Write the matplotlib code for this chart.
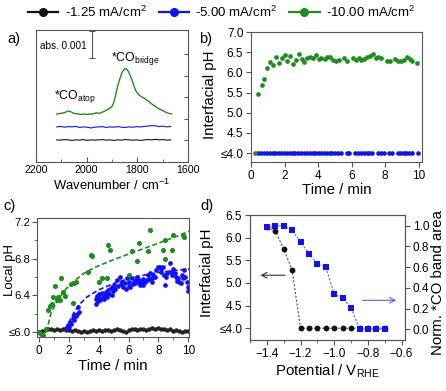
import numpy as np
import matplotlib
matplotlib.use("Agg")
import matplotlib.pyplot as plt
from matplotlib.lines import Line2D
from matplotlib.ticker import MultipleLocator, FixedLocator

plt.rcParams['font.family'] = ['Liberation Sans', 'DejaVu Sans']
plt.rcParams['mathtext.default'] = 'regular'

# ---------------- data ----------------
legend_labels = ['-1.25 mA/cm$^2$', '-5.00 mA/cm$^2$', '-10.00 mA/cm$^2$']
c_black = '#111111'
c_blue = '#1010ff'
c_green = '#1e8c1e'

# panel a: spectra (absorbance in units of 0.001)
wn_green_a = [2118, 2105, 2090, 2080, 2072, 2062, 2050, 2040, 2030, 2020, 2010, 2000,
              1990, 1980, 1970, 1960, 1950, 1940, 1930, 1920, 1910, 1900, 1893, 1885,
              1878, 1870, 1862, 1855, 1848, 1842, 1835, 1828, 1820, 1812, 1805, 1795,
              1785, 1775, 1765, 1755, 1745, 1735, 1725, 1715, 1705, 1695, 1685, 1675, 1665]
green_a = [1.78, 1.80, 1.82, 1.86, 1.89, 1.86, 1.80, 1.79, 1.77, 1.76, 1.78, 1.76,
           1.78, 1.77, 1.80, 1.82, 1.80, 1.84, 1.88, 1.93, 1.98, 2.06, 2.20, 2.50,
           2.80, 3.05, 3.28, 3.40, 3.46, 3.44, 3.35, 3.20, 3.00, 2.78, 2.62, 2.50,
           2.42, 2.38, 2.31, 2.25, 2.16, 2.10, 2.03, 1.97, 1.93, 1.88, 1.83, 1.80, 1.78]
wn_a = [2118, 2103, 2088, 2073, 2058, 2043, 2028, 2013, 1998, 1983, 1968, 1953, 1938,
        1923, 1908, 1893, 1878, 1863, 1848, 1833, 1818, 1803, 1788, 1773, 1758, 1743,
        1728, 1713, 1698, 1683, 1668]
blue_a = [1.30, 1.32, 1.29, 1.31, 1.30, 1.32, 1.28, 1.30, 1.29, 1.26, 1.29, 1.30, 1.31,
          1.28, 1.30, 1.29, 1.31, 1.29, 1.28, 1.30, 1.29, 1.31, 1.30, 1.32, 1.33, 1.35,
          1.34, 1.31, 1.33, 1.30, 1.32]
black_a = [0.82, 0.81, 0.83, 0.82, 0.80, 0.82, 0.81, 0.83, 0.80, 0.82, 0.81, 0.82, 0.83,
           0.81, 0.82, 0.80, 0.82, 0.81, 0.83, 0.82, 0.81, 0.82, 0.80, 0.82, 0.83, 0.82,
           0.84, 0.82, 0.83, 0.81, 0.82]

# panel b: interfacial pH vs time
t_green_b = [0.24, 0.44, 0.63, 0.79, 0.97, 1.13, 1.31, 1.49, 1.65, 1.83, 2.00, 2.16, 2.34,
             2.50, 2.68, 2.86, 3.02, 3.19, 3.35, 3.53, 3.69, 3.87, 4.05, 4.20, 4.39, 4.56,
             4.72, 4.90, 5.06, 5.24, 5.56, 5.73, 6.09, 6.25, 6.43, 6.59, 6.77, 6.94, 7.10,
             7.26, 7.44, 7.60, 7.78, 8.12, 8.29, 8.61, 8.79, 8.95, 9.13, 9.29, 9.46, 9.62, 9.90]
green_b = [4.00, 5.47, 5.69, 5.83, 6.11, 6.25, 6.19, 6.37, 6.23, 6.36, 6.42, 6.28, 6.40,
           6.21, 6.31, 6.46, 6.32, 6.25, 6.36, 6.37, 6.36, 6.42, 6.33, 6.35, 6.33, 6.37,
           6.39, 6.31, 6.27, 6.31, 6.35, 6.29, 6.35, 6.31, 6.35, 6.31, 6.33, 6.37, 6.40,
           6.46, 6.35, 6.37, 6.35, 6.29, 6.29, 6.33, 6.28, 6.27, 6.31, 6.37, 6.33, 6.27, 6.24]
t_low_b = [0.44, 0.61, 0.78, 0.95, 1.12, 1.29, 1.46, 1.63, 1.80, 1.97, 2.14, 2.31, 2.48,
           2.65, 2.82, 2.99, 3.16, 3.33, 3.50, 3.67, 3.84, 4.01, 4.18, 4.35, 4.52, 4.69,
           4.86, 5.03, 5.20, 5.37, 5.70, 5.87, 6.21, 6.38, 6.55, 6.72, 6.89, 7.06, 7.23,
           7.57, 7.74, 7.91, 8.25, 8.42, 8.76, 8.93, 9.10, 9.27, 9.44, 9.61, 9.95]
blue_b = [4.0, 4.0, 4.0, 4.0, 4.0, 4.0, 4.0, 4.0, 4.0, 4.0, 4.0, 4.0, 4.0,
          4.0, 4.0, 4.0, 4.0, 4.0, 4.0, 4.0, 4.0, 4.0, 4.0, 4.0, 4.0, 4.0,
          4.0, 4.0, 4.0, 4.0, 4.0, 4.0, 4.0, 4.0, 4.0, 4.0, 4.0, 4.0, 4.0,
          4.0, 4.0, 4.0, 4.0, 4.0, 4.0, 4.0, 4.0, 4.0, 4.0, 4.0, 4.0]
black_b = list(blue_b)

# panel c: local pH vs time
t_green_c = [0.00, 0.15, 0.30, 0.45, 0.59, 0.74, 0.90, 0.96, 1.07, 1.18, 1.29, 1.40, 1.47,
             1.62, 1.73, 2.17, 2.28, 2.35, 2.50, 3.31, 3.49, 3.55, 4.03, 4.25, 4.54, 4.65,
             4.74, 6.01, 6.23, 6.60, 6.73, 7.32, 7.43, 8.30, 8.41, 8.47, 8.92, 8.97, 9.62, 9.69]
green_c = [6.00, 5.98, 5.97, 6.03, 6.24, 6.28, 6.31, 6.38, 6.50, 6.35, 6.38, 6.35, 6.59,
           6.44, 6.39, 6.52, 6.32, 6.54, 6.55, 6.65, 6.84, 6.83, 6.55, 6.59, 6.59, 6.95,
           6.89, 6.62, 6.88, 6.77, 6.97, 6.88, 7.11, 6.90, 7.00, 6.80, 6.89, 7.06, 7.06, 7.04]
t_blue_c = [1.82, 1.93, 2.00, 2.11, 2.18, 2.26, 2.33, 2.37, 2.45, 2.52, 2.59, 2.65,
            3.80, 3.85, 3.90, 3.95, 4.00, 4.05, 4.10, 4.20, 4.30, 4.35, 4.43, 4.50, 4.55,
            4.65, 4.72, 4.80, 4.87, 4.91, 4.95, 5.02, 5.10, 5.24, 5.30, 5.46, 5.50, 5.57,
            5.65, 5.79, 5.85, 5.90, 6.00, 6.05, 6.12, 6.23, 6.30, 6.34, 6.45, 6.50, 6.56,
            6.67, 6.72, 6.78, 6.89, 6.95, 7.00, 7.10, 7.22, 7.33, 7.40, 7.43, 7.54, 7.60,
            7.65, 7.75, 7.87, 7.98, 8.09, 8.15, 8.20, 8.31, 8.36, 8.42, 8.53, 8.60, 8.75,
            8.86, 8.92, 8.97, 9.08, 9.19, 9.25, 9.30, 9.41, 9.52, 9.58, 9.63, 9.74, 9.80,
            9.90, 9.96, 10.00]
blue_c = [6.04, 6.08, 6.05, 6.11, 6.09, 6.15, 6.13, 6.19, 6.17, 6.20, 6.27, 6.22,
          6.31, 6.36, 6.39, 6.34, 6.42, 6.37, 6.35, 6.43, 6.38, 6.36, 6.40, 6.44, 6.38,
          6.46, 6.42, 6.48, 6.49, 6.40, 6.45, 6.51, 6.47, 6.57, 6.50, 6.60, 6.52, 6.55,
          6.49, 6.53, 6.47, 6.59, 6.55, 6.50, 6.49, 6.59, 6.52, 6.55, 6.53, 6.57, 6.60,
          6.57, 6.53, 6.51, 6.55, 6.58, 6.51, 6.55, 6.57, 6.62, 6.58, 6.64, 6.59, 6.55,
          6.62, 6.60, 6.68, 6.71, 6.71, 6.65, 6.69, 6.71, 6.62, 6.51, 6.60, 6.64, 6.75,
          6.66, 6.62, 6.69, 6.64, 6.60, 6.56, 6.59, 6.55, 6.53, 6.62, 6.59, 6.68, 6.60,
          6.55, 6.49, 6.45]
t_black_c = [0.0, 0.2, 0.4, 0.6, 0.8, 1.0, 1.2, 1.4, 1.6, 1.8, 2.0, 2.2, 2.4, 2.6, 2.8,
             3.0, 3.2, 3.4, 3.6, 3.8, 4.0, 4.2, 4.4, 4.6, 4.8, 5.0, 5.2, 5.4, 5.6, 5.8,
             6.0, 6.2, 6.4, 6.6, 6.8, 7.0, 7.2, 7.4, 7.6, 7.8, 8.0, 8.2, 8.4, 8.6, 8.8,
             9.0, 9.2, 9.4, 9.6, 9.8, 10.0]
black_c = [6.00, 6.01, 6.02, 6.03, 6.03, 6.02, 6.03, 6.02, 6.03, 6.02, 6.02, 6.01, 6.02,
           6.01, 6.00, 6.01, 6.00, 6.01, 6.02, 6.01, 6.02, 6.01, 6.02, 6.02, 6.01, 6.02,
           6.03, 6.02, 6.01, 6.00, 6.02, 6.03, 6.03, 6.02, 6.03, 6.03, 6.02, 6.03, 6.04,
           6.03, 6.04, 6.03, 6.03, 6.02, 6.03, 6.01, 6.02, 6.01, 6.00, 6.01, 6.01]
t_fit_green = [0.5, 0.8, 1.2, 1.7, 2.3, 3.0, 3.8, 5.0, 6.0, 7.0, 8.0, 9.0, 10.2]
fit_green = [6.00, 6.20, 6.33, 6.45, 6.55, 6.64, 6.71, 6.79, 6.85, 6.91, 6.97, 7.03, 7.11]
t_fit_blue = [1.8, 2.0, 2.3, 2.7, 3.2, 4.0, 5.0, 6.0, 7.0, 8.0, 9.0, 10.2]
fit_blue = [6.02, 6.10, 6.20, 6.30, 6.38, 6.46, 6.53, 6.58, 6.62, 6.65, 6.67, 6.69]

# panel d: pH and CO band area vs potential
pot_d = [-1.40, -1.35, -1.30, -1.25, -1.20, -1.15, -1.10, -1.05, -1.00, -0.95,
         -0.90, -0.85, -0.80, -0.75, -0.70]
ph_d = [6.23, 6.15, 5.75, 5.28, 4.00, 4.00, 4.00, 4.00, 4.00, 4.00,
        4.00, 4.00, 4.00, 4.00, 4.00]
co_d = [0.99, 1.00, 1.00, 0.96, 0.84, 0.73, 0.63, 0.60, 0.34, 0.30,
        0.21, 0.00, 0.00, 0.00, 0.00]

# ---------------- figure ----------------
W, H = 446, 391
fig = plt.figure(figsize=(W / 100, H / 100), dpi=100)

def rect(l, r, t, b):
    return [l / W, 1 - b / H, (r - l) / W, (b - t) / H]

spine_c = '#555555'
tick_fs = 8.5
lab_fs = 10.8

def style(ax, fs=tick_fs):
    for s in ax.spines.values():
        s.set_color(spine_c)
        s.set_linewidth(0.8)
    ax.tick_params(which='both', direction='out', color=spine_c, labelsize=fs, pad=2)
    ax.tick_params(which='major', length=3.5, width=0.8)
    ax.tick_params(which='minor', length=2, width=0.6)

# ---- panel a ----
axa = fig.add_axes(rect(36, 188, 30, 162))
style(axa, 7.7)
axa.plot(wn_green_a, green_a, color=c_green, lw=1.0)
axa.plot(wn_a, blue_a, color=c_blue, lw=0.8)
axa.plot(wn_a, black_a, color=c_black, lw=0.8)
axa.set_xlim(2200, 1600)
axa.set_ylim(0, 4.89)
axa.set_xticks([2200, 2000, 1800, 1600])
axa.xaxis.set_minor_locator(FixedLocator([2100, 1900, 1700]))
axa.tick_params(axis='x', which='both', direction='in')
axa.yaxis.tick_right()
axa.set_yticks([0.8, 1.6, 2.4, 3.2, 4.0])
axa.tick_params(axis='y', which='both', direction='in', labelright=False, length=3)
axa.set_xlabel('Wavenumber / cm$^{-1}$', fontsize=9.4, labelpad=2)
axa.errorbar([1979], [4.35], yerr=[[0.5], [0.5]], color='#555555', capsize=2.5,
             lw=0.8, capthick=0.8)
axa.text(1999, 4.3, 'abs. 0.001', ha='right', va='center', fontsize=7.2)
axa.text(1902, 3.85, '*CO$_{bridge}$', ha='left', va='center', fontsize=8.8)
axa.text(2127, 2.44, '*CO$_{atop}$', ha='left', va='center', fontsize=8.8)

# ---- panel b ----
axb = fig.add_axes(rect(251, 422, 32, 162))
style(axb)
axb.plot(t_low_b, black_b, 'o', color=c_black, ms=3.0, mew=0)
axb.plot(t_low_b, blue_b, 'o', color=c_blue, ms=3.0, mew=0)
axb.plot(t_green_b, green_b, 'o', color=c_green, ms=3.4, mew=0)
axb.set_xlim(0, 10.2)
axb.set_ylim(3.78, 7.0)
axb.set_xticks([0, 2, 4, 6, 8, 10])
axb.set_yticks([4.0, 4.5, 5.0, 5.5, 6.0, 6.5, 7.0])
axb.set_yticklabels(['≤4.0', '4.5', '5.0', '5.5', '6.0', '6.5', '7.0'])
axb.set_xlabel('Time / min', fontsize=lab_fs, labelpad=1)
axb.set_ylabel('Interfacial pH', fontsize=lab_fs)
axb.yaxis.set_label_coords(-0.199, 0.515)

# ---- panel c ----
axc = fig.add_axes(rect(37, 189, 218, 337))
style(axc, 8.2)
axc.plot(t_black_c, black_c, 'o', color='#222222', ms=3.2, mew=0)
axc.plot(t_blue_c, blue_c, 'o', color=c_blue, ms=3.4, mew=0)
axc.plot(t_green_c, green_c, 'o', color=c_green, ms=3.7, mew=0)
axc.plot(t_fit_green, fit_green, '--', color=c_green, lw=1.2, dashes=(3, 1.6))
axc.plot(t_fit_blue, fit_blue, '--', color=c_blue, lw=1.2, dashes=(3, 1.6))
axc.set_xlim(-0.13, 10.05)
axc.set_ylim(5.945, 7.245)
axc.set_xticks([0, 2, 4, 6, 8, 10])
axc.xaxis.set_minor_locator(MultipleLocator(1))
axc.set_yticks([6.0, 6.4, 6.8, 7.2])
axc.set_yticklabels(['≤6.0', '6.4', '6.8', '7.2'])
axc.yaxis.set_minor_locator(MultipleLocator(0.2))
axc.tick_params(axis='x', labelsize=8.5)
axc.tick_params(axis='y', pad=1.2)
axc.set_xlabel('Time / min', fontsize=lab_fs, labelpad=2)
axc.set_ylabel('Local pH', fontsize=9.5)
axc.yaxis.set_label_coords(-0.14, 0.56)

# ---- panel d ----
axd = fig.add_axes(rect(250, 405, 215, 340))
style(axd)
axd2 = axd.twinx()
style(axd2)
axd.plot(pot_d, ph_d, '--', color='#555555', lw=0.8, dashes=(2, 1.5), zorder=2)
axd.plot(pot_d, ph_d, 'o', color=c_black, ms=4.2, mew=0, zorder=3)
axd2.plot(pot_d, co_d, '--', color='#4a64ff', lw=0.8, dashes=(2, 1.5))
axd2.plot(pot_d, co_d, 's', color=c_blue, ms=3.9, mew=0)
axd.set_xlim(-1.5, -0.58)
axd.set_ylim(3.74, 6.5)
axd2.set_ylim(-0.103, 1.103)
axd.set_xticks([-1.4, -1.2, -1.0, -0.8, -0.6])
axd.xaxis.set_minor_locator(MultipleLocator(0.1))
axd.set_yticks([4.0, 4.5, 5.0, 5.5, 6.0, 6.5])
axd.set_yticklabels(['≤4.0', '4.5', '5.0', '5.5', '6.0', '6.5'])
axd2.set_yticks([0.0, 0.2, 0.4, 0.6, 0.8, 1.0])
axd.set_xlabel('Potential / V$_{RHE}$', fontsize=lab_fs, labelpad=2)
axd.set_ylabel('Interfacial pH', fontsize=lab_fs)
axd.yaxis.set_label_coords(-0.232, 0.536)
axd2.set_ylabel('Norm. *CO band area', fontsize=lab_fs)
axd2.yaxis.set_label_coords(1.17, 0.46)
axd.annotate('', xy=(-1.455, 5.17), xytext=(-1.275, 5.17),
             arrowprops=dict(arrowstyle='->', color='#333333', lw=0.8))
axd2.annotate('', xy=(-0.615, 0.28), xytext=(-0.85, 0.28),
              arrowprops=dict(arrowstyle='->', color='#4a64ff', lw=0.8))

# ---- legend ----
handles = [Line2D([], [], color=c, marker='o', ms=5.5, lw=1.6)
           for c in (c_black, c_blue, c_green)]
fig.legend(handles, legend_labels, loc='center', bbox_to_anchor=(0.497, 0.968),
           ncol=3, frameon=False, fontsize=9.5, handlelength=2.3, handletextpad=0.5,
           columnspacing=0.9, borderaxespad=0, borderpad=0)

# ---- panel labels ----
for lbl, x, y in [('a)', 7, 39), ('b)', 199, 39), ('c)', 3, 206), ('d)', 200, 206)]:
    fig.text(x / W, 1 - y / H, lbl, fontsize=10.5, ha='left', va='center')

fig.savefig('out.png', dpi=100)
